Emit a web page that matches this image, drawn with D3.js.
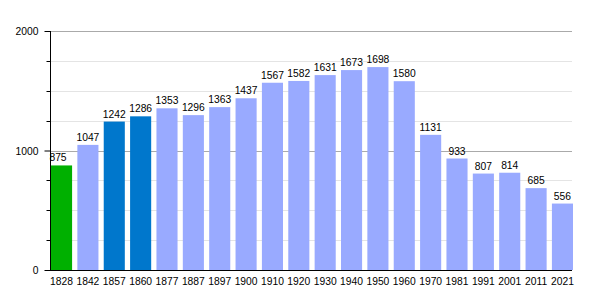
<!DOCTYPE html>
<meta charset="utf-8">
<style>
  body { margin: 0; background: #fff; }
  text { font-family: "Liberation Sans", Arial, sans-serif; font-size: 10.3px; fill: #000; }
</style>
<body>
<script src="https://cdn.jsdelivr.net/npm/d3@7"></script>
<script>
  var years = ["1828", "1842", "1857", "1860", "1877", "1887", "1897", "1900", "1910", "1920",
               "1930", "1940", "1950", "1960", "1970", "1981", "1991", "2001", "2011", "2021"];
  var population = [875, 1047, 1242, 1286, 1353, 1296, 1363, 1437, 1567, 1582,
                    1631, 1673, 1698, 1580, 1131, 933, 807, 814, 685, 556];
  // colour group per census: 0 = first, 1 = highlighted, 2 = normal
  var group = [0, 2, 1, 1, 2, 2, 2, 2, 2, 2, 2, 2, 2, 2, 2, 2, 2, 2, 2, 2];
  var colors = ["#00b000", "#0077cc", "#99aaff"];
  var majorTicks = [0, 1000, 2000];
  var minorTicks = [250, 500, 750, 1250, 1500, 1750];

  // note: "top" is taken by window.top, so plot edges get their own names
  var width = 600, height = 300,
      plotLeft = 50, plotRight = 572, plotTop = 31, plotBottom = 270;

  var svg = d3.select("body").append("svg")
      .attr("width", width)
      .attr("height", height);

  var x = d3.scaleBand()
      .domain(years)
      .range([plotLeft, plotRight])
      .paddingInner(0.2)
      .paddingOuter(0)
      .align(0);

  var y = d3.scaleLinear()
      .domain([0, 2000])
      .range([plotBottom, plotTop]);

  function py(d) { return Math.round(y(d)) + 0.5; }

  // grid
  svg.append("g").selectAll("line")
      .data(minorTicks)
      .enter().append("line")
        .attr("x1", plotLeft).attr("x2", plotRight)
        .attr("y1", py).attr("y2", py)
        .style("stroke", "#e4e4e4");

  svg.append("g").selectAll("line")
      .data(majorTicks.slice(1))
      .enter().append("line")
        .attr("x1", plotLeft).attr("x2", plotRight)
        .attr("y1", py).attr("y2", py)
        .style("stroke", "#aaaaaa");

  // bars
  svg.append("g").selectAll("rect")
      .data(population)
      .enter().append("rect")
        .attr("x", function(d, i) { return x(years[i]) + 1; })
        .attr("y", function(d) { return y(d); })
        .attr("width", x.bandwidth())
        .attr("height", function(d) { return plotBottom - y(d); })
        .style("fill", function(d, i) { return colors[group[i]]; });

  // value labels
  svg.append("g").selectAll("text")
      .data(population)
      .enter().append("text")
        .attr("x", function(d, i) { return i === 0 ? plotLeft + 8 : x(years[i]) + 1 + x.bandwidth() / 2; })
        .attr("y", function(d) { return y(d) - 4; })
        .attr("text-anchor", "middle")
        .text(function(d) { return d; });

  // axes
  var yAxis = d3.axisLeft(y)
      .tickValues(majorTicks)
      .tickSize(6)
      .tickPadding(6)
      .tickFormat(d3.format("d"));

  var gy = svg.append("g")
      .attr("transform", "translate(" + (plotLeft + 0.5) + ",0)")
      .call(yAxis);
  gy.select(".domain").remove();
  gy.selectAll("text")
      .attr("dy", "0.35em")
      .attr("fill", null)
      .style("font-family", null).style("font-size", null);
  gy.attr("font-family", null).attr("font-size", null);

  gy.selectAll(".minor")
      .data(minorTicks)
      .enter().append("line")
        .attr("class", "minor")
        .attr("x1", -4).attr("x2", 0)
        .attr("y1", py).attr("y2", py)
        .style("stroke", "#000");

  svg.append("line")
      .attr("x1", plotLeft + 0.5).attr("x2", plotLeft + 0.5)
      .attr("y1", plotTop).attr("y2", plotBottom)
      .style("stroke", "#000");

  svg.append("line")
      .attr("x1", plotLeft).attr("x2", plotRight)
      .attr("y1", plotBottom + 0.5).attr("y2", plotBottom + 0.5)
      .style("stroke", "#000");

  svg.append("g").selectAll("text")
      .data(years)
      .enter().append("text")
        .attr("x", function(d) { return x(d) + 1 + x.bandwidth() / 2; })
        .attr("y", plotBottom + 15)
        .attr("text-anchor", "middle")
        .text(function(d) { return d; });
</script>
</body>
</html>
